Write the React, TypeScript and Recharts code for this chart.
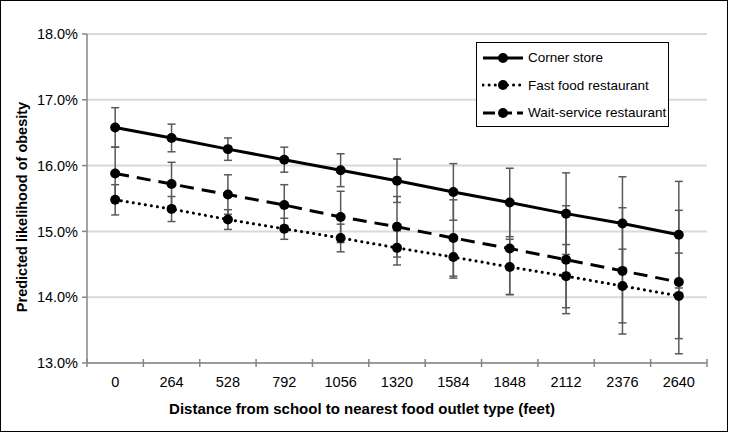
import { LineChart, Line, XAxis, YAxis, CartesianGrid, ErrorBar, Label } from "recharts";

const distances = ["0", "264", "528", "792", "1056", "1320", "1584", "1848", "2112", "2376", "2640"];

const cornerStore = [16.58, 16.42, 16.25, 16.09, 15.93, 15.77, 15.6, 15.44, 15.27, 15.12, 14.95];
const cornerStoreErr = [0.3, 0.21, 0.17, 0.19, 0.25, 0.33, 0.43, 0.52, 0.62, 0.71, 0.81];

const fastFood = [15.48, 15.34, 15.18, 15.04, 14.9, 14.75, 14.61, 14.46, 14.32, 14.17, 14.02];
const fastFoodErr = [0.23, 0.19, 0.15, 0.16, 0.21, 0.26, 0.32, 0.42, 0.48, 0.56, 0.65];

const waitService = [15.88, 15.72, 15.56, 15.4, 15.22, 15.07, 14.9, 14.74, 14.57, 14.4, 14.23];
const waitServiceErr = [0.4, 0.33, 0.3, 0.31, 0.39, 0.46, 0.58, 0.7, 0.82, 0.96, 1.09];

const yTicks = [13, 14, 15, 16, 17, 18];

const seriesNames = ["Corner store", "Fast food restaurant", "Wait-service restaurant"];

const data = distances.map((d, i) => ({
  distance: d,
  corner: cornerStore[i],
  cornerErr: cornerStoreErr[i],
  fast: fastFood[i],
  fastErr: fastFoodErr[i],
  wait: waitService[i],
  waitErr: waitServiceErr[i],
}));

const font = "'Liberation Sans', Arial, sans-serif";
const axisGray = "#868686";
const errGray = "#595959";
const dotStyle = { r: 5, fill: "#000", stroke: "#000", strokeWidth: 0, strokeDasharray: "" };

const legendDash: Record<string, string | undefined> = {
  "Corner store": undefined,
  "Fast food restaurant": "0.1 6",
  "Wait-service restaurant": "12 5",
};

function XTick(props: any) {
  const { x, y, payload } = props;
  const half = payload?.offset || 28.2;
  const last = payload?.index === distances.length - 1;
  return (
    <g>
      <line x1={x - half} x2={x - half} y1={y - 4} y2={y + 4} stroke={axisGray} strokeWidth={1.5} />
      {last && <line x1={x + half} x2={x + half} y1={y - 4} y2={y + 4} stroke={axisGray} strokeWidth={1.5} />}
      <text x={x} y={y + 24} textAnchor="middle" fontSize={14.5} fontFamily={font} fill="#000">
        {payload.value}
      </text>
    </g>
  );
}

function LegendBox() {
  return (
    <div
      style={{
        position: "absolute",
        left: 476,
        top: 42,
        width: 191,
        height: 82,
        border: "1.5px solid #000",
        background: "#fff",
        fontFamily: font,
        fontSize: 13.5,
        color: "#000",
        paddingTop: 1,
      }}
    >
      {seriesNames.map((name) => (
        <div key={name} style={{ display: "flex", alignItems: "center", height: 27.5 }}>
          <svg width={46} height={12} style={{ marginLeft: 5, flex: "none" }}>
            <line
              x1={1}
              x2={41}
              y1={6}
              y2={6}
              stroke="#000"
              strokeWidth={3}
              strokeDasharray={legendDash[name]}
              strokeLinecap={name === "Fast food restaurant" ? "round" : "butt"}
            />
            <circle cx={21} cy={6} r={5} fill="#000" />
          </svg>
          <span style={{ whiteSpace: "nowrap" }}>{name}</span>
        </div>
      ))}
    </div>
  );
}

export default function App() {
  return (
    <div style={{ position: "relative", width: 729, height: 436 }}>
      <style>{`body{margin:0}`}</style>
      <LineChart width={729} height={436} data={data} margin={{ top: 34, right: 22, left: 0, bottom: 0 }}>
        <CartesianGrid horizontal vertical={false} stroke="#d9d9d9" strokeWidth={2} />
        <XAxis
          dataKey="distance"
          scale="band"
          height={73}
          axisLine={{ stroke: axisGray, strokeWidth: 1.5 }}
          tickLine={false}
          tickSize={0}
          tickMargin={0}
          tick={<XTick />}
          interval={0}
        >
          <Label
            content={() => (
              <text x={362} y={414} textAnchor="middle" fontSize={15} fontWeight="bold" fontFamily={font} fill="#000">
                Distance from school to nearest food outlet type (feet)
              </text>
            )}
          />
        </XAxis>
        <YAxis
          width={87}
          domain={[13, 18]}
          ticks={yTicks}
          interval={0}
          tickFormatter={(v: number) => `${v.toFixed(1)}%`}
          axisLine={{ stroke: axisGray, strokeWidth: 1.5 }}
          tickLine={{ stroke: axisGray, strokeWidth: 1.5 }}
          tickSize={5}
          tickMargin={4}
          tick={{ fill: "#000", fontSize: 14.5, fontFamily: font }}
        >
          <Label
            content={() => (
              <text
                x={22}
                y={207}
                transform="rotate(-90 22 207)"
                textAnchor="middle"
                dominantBaseline="central"
                fontSize={14.5}
                fontWeight="bold"
                fontFamily={font}
                fill="#000"
              >
                Predicted likelihood of obesity
              </text>
            )}
          />
        </YAxis>
        <Line dataKey="corner" name="Corner store" stroke="#000" strokeWidth={3} dot={dotStyle} isAnimationActive={false}>
          <ErrorBar dataKey="cornerErr" direction="y" width={4} stroke={errGray} strokeWidth={1.5} isAnimationActive={false} />
        </Line>
        <Line
          dataKey="fast"
          name="Fast food restaurant"
          stroke="#000"
          strokeWidth={3}
          strokeDasharray="0.1 6"
          strokeLinecap="round"
          dot={dotStyle}
          isAnimationActive={false}
        >
          <ErrorBar dataKey="fastErr" direction="y" width={4} stroke={errGray} strokeWidth={1.5} isAnimationActive={false} />
        </Line>
        <Line
          dataKey="wait"
          name="Wait-service restaurant"
          stroke="#000"
          strokeWidth={3}
          strokeDasharray="14 8"
          dot={dotStyle}
          isAnimationActive={false}
        >
          <ErrorBar dataKey="waitErr" direction="y" width={4} stroke={errGray} strokeWidth={1.5} isAnimationActive={false} />
        </Line>
      </LineChart>
      <LegendBox />
      <div
        style={{
          position: "absolute",
          left: 0,
          top: 0,
          width: 726,
          height: 430,
          border: "1.5px solid #000",
          pointerEvents: "none",
        }}
      />
    </div>
  );
}
